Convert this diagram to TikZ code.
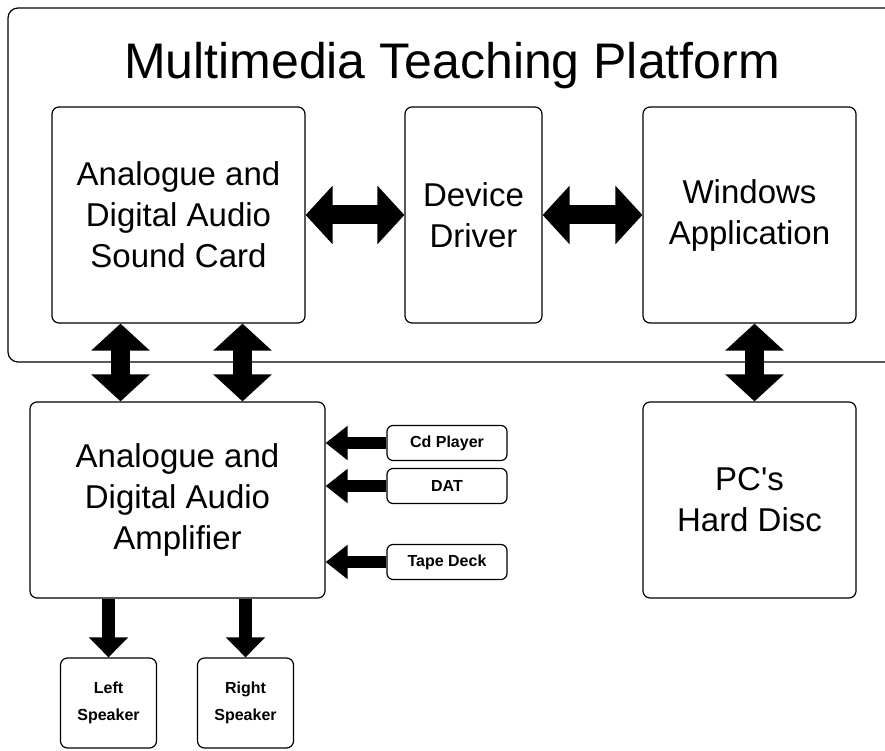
\documentclass[tikz,border=0pt]{standalone}
\usepackage{fontspec}
\setmainfont{Liberation Sans}
\usetikzlibrary{arrows.meta}
\tikzset{
unit/.style={draw, line width=1.2pt, rounded corners=7pt, align=center,
  inner sep=0pt, font=\fontsize{33}{41}\selectfont},
source/.style={draw, line width=1.2pt, rounded corners=6pt, align=center,
  inner sep=0pt, minimum width=120pt, minimum height=35pt,
  font=\bfseries\fontsize{16}{22}\selectfont},
speaker/.style={unit, minimum width=96pt, minimum height=90pt,
  font=\bfseries\fontsize{16}{27}\selectfont},
bigarrow/.style={line width=19pt,
  {Triangle[width=57pt,length=27pt]}-{Triangle[width=57pt,length=27pt]}},
inarrow/.style={line width=12pt, -{Triangle[width=33pt,length=22pt]}},
outarrow/.style={line width=13pt, -{Triangle[width=38pt,length=20pt]}},
}

\begin{document}
\begin{tikzpicture}[x=1pt,y=-1pt]
\useasboundingbox (0,0) rectangle (885,751);
\clip (0,0) rectangle (885,751);
% the platform frame
\draw[line width=1.2pt, rounded corners=10pt] (8,8) rectangle (920,362);
\node (title) at (452,66) {\fontsize{50}{58}\selectfont Multimedia Teaching Platform};
% the units
\node[unit, minimum width=253pt, minimum height=216pt] (card) at (178.5,215)
  {Analogue and\\Digital Audio\\Sound Card};
\node[unit, minimum width=137pt, minimum height=216pt] (driver) at (473.5,215)
  {Device\\Driver};
\node[unit, minimum width=213pt, minimum height=216pt] (win) at (749.5,215)
  {Windows\\Application};
\node[unit, minimum width=295pt, minimum height=196pt] (amp) at (177.5,500)
  {Analogue and\\Digital Audio\\Amplifier};
\node[unit, minimum width=213pt, minimum height=196pt] (disc) at (749.5,500)
  {PC\textquotesingle s\\Hard Disc};
% the sources
\node[source] (cd) at (447,443) {Cd Player};
\node[source] (dat) at (447,486) {DAT};
\node[source] (tape) at (447,562) {Tape Deck};
% the speakers
\node[speaker] (left) at (108.5,703) {Left\\Speaker};
\node[speaker] (right) at (245.5,703) {Right\\Speaker};
% the arrows
\draw[bigarrow] (card.east) -- (driver.west);
\draw[bigarrow] (driver.east) -- (win.west);
\draw[bigarrow] ([xshift=-58pt]card.south) -- ([xshift=-58pt]card.south |- amp.north);
\draw[bigarrow] ([xshift=64pt]card.south) -- ([xshift=64pt]card.south |- amp.north);
\draw[bigarrow] ([xshift=5pt]win.south) -- ([xshift=5pt]disc.north);
\foreach \src in {cd,dat,tape}
  \draw[inarrow] (\src.west) -- (\src.west -| amp.east);
\foreach \spk in {left,right}
  \draw[outarrow] (\spk.north |- amp.south) -- (\spk.north);
\end{tikzpicture}
\end{document}
